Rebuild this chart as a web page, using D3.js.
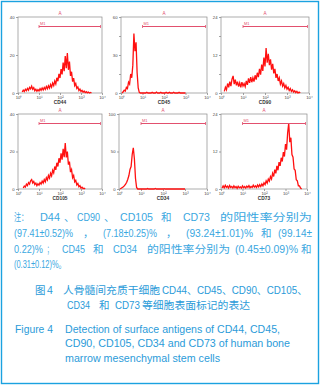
<!DOCTYPE html>
<html><head><meta charset="utf-8">
<script src="https://cdn.jsdelivr.net/npm/d3@7"></script>
<style>html,body{margin:0;padding:0;background:#fff;} svg{display:block;}</style>
</head><body>
<svg id="c" width="323" height="388"></svg>
<script>
// ---------------- DATA ----------------
const markers = ["CD44", "CD45", "CD90", "CD105", "CD34", "CD73"];
const logStart = [0.20, 0.05, 0.15, 0.25, 0.05, 0.05];   // first channel (log10 of intensity)
const logStep = 0.05;
const countsCD44 = [0.5,1.5,0.8,2.0,1.2,2.4,1.5,3.0,2.2,3.6,2.0,2.8,1.2,2.0,0.9,1.8,1.1,2.3,1.4,2.6,1.6,2.9,1.9,3.4,2.2,3.8,2.6,4.5,3.1,5.2,3.9,6.3,4.8,8.0,6.2,10.1,7.9,12.6,9.8,16.0,11.5,19.5,13.0,21.0,12.2,16.5,9.0,11.2,6.0,7.8,3.9,5.0,2.4,3.2,1.3,2.1,0.8,1.4,0.4,1.0,0.2,0.7,0.1,0.5,0,0.3,0];
const countsCD45 = [0,1.0,2.2,1.5,4.5,3.5,8.5,7,15,12,22,47,33,40,16,4,0.5,0,
  0,0,0,0,0,0.6,0,0,0,0,0.5,0,0,0,0.7,0,0,0,0.5,0,0,0,0,0.6,0,0,0.5,0,0,0,0.6,0,0,0,0,0.5,0,0,0,0,0,0];
const countsCD90 = [0.5,1.8,1.0,3.0,1.8,3.6,2.2,4.4,5.4,2.8,4.2,2.4,3.6,2.0,3.2,1.8,3.4,2.2,3.0,2.0,3.8,2.6,4.6,3.2,5.0,3.4,4.8,3.6,5.6,4.2,6.4,5.0,7.6,5.8,9.0,7.0,11.2,8.4,14.2,9.6,12.4,8.8,10.6,7.4,9.2,6.2,7.6,4.8,6.0,3.8,4.8,2.8,3.8,2.2,3.0,1.6,2.4,1.2,1.8,0.8,1.4,0.5,1.0,0.3,0.7,0.1,0.5,0,0.3,0];
const countsCD105 = [0.5,1.6,1.0,2.6,1.8,3.4,2.6,4.4,5.0,3.2,4.0,2.4,3.2,1.8,2.8,2.0,3.4,2.6,4.2,3.2,5.0,3.8,6.0,4.8,7.2,5.8,8.4,7.0,10.0,8.6,12.0,10.2,14.0,12.0,16.4,14.0,19.0,15.6,21.4,17.0,24.5,16.8,20.0,13.0,14.6,9.0,10.4,6.0,7.2,3.8,4.6,2.2,3.0,1.2,1.8,0.5,1.0,0.2,0.4,0];
const countsCD34 = [0,1.0,2.0,3.0,4.5,6.5,9.0,13,18,26,30,46,55,40,14,2,0,
  0,0,0,0,0,0,0,0,0.6,0,0,0,0,0,0,0.7,0,0,0,0,0,0,0,0.5,0,0,0,0,0,0,0,0,0,0,0,0,0,0,0,0,0,0,0];
const countsCD73 = [0.3,1.0,0.4,1.2,0.5,0.9,0.3,1.1,0.5,0.8,0.3,1.0,0.4,0.8,0.2,0.9,0.4,0.7,0.3,1.0,0.4,0.8,0.3,0.9,0.5,1.1,0.4,0.8,0.5,1.2,0.6,1.0,0.5,1.3,0.7,1.4,0.8,1.6,1.0,2.0,1.4,2.6,1.9,3.2,2.5,4.0,3.2,5.0,4.0,6.2,5.0,7.4,6.0,8.6,7.4,10.0,8.8,11.8,10.4,14.4,12.6,18.0,21.0,15.0,16.4,11.0,10.2,6.4,6.0,3.0,2.6,1.0,1.0,0.3,0];
const allCounts = [countsCD44, countsCD45, countsCD90, countsCD105, countsCD34, countsCD73];
const yMax = [40, 60, 24, 40, 100, 24];
const yLabelTicks = [[0, 20, 40], [0, 30, 60], [0, 12, 24], [0, 20, 40], [0, 50, 100], [0, 12, 24]];
const yMinorTicks = [[], [15, 45], [6, 18], [], [], []];
const xTickValues = [1, 10, 100, 1000, 10000];
const xTickLabels = ["10⁰", "10¹", "10²", "10³", "10⁴"];
const gateRange = [10, 10000];
const gateLabel = "M1";
const regionLabel = "A";

// ---------------- LAYOUT ----------------
const frames = [
  {x0: 18, x1: 102, y0: 17, y1: 93},
  {x0: 121, x1: 207, y0: 17, y1: 93},
  {x0: 221, x1: 309, y0: 17, y1: 93},
  {x0: 18, x1: 102, y0: 114, y1: 189},
  {x0: 119, x1: 207, y0: 114, y1: 189},
  {x0: 221, x1: 307, y0: 114, y1: 189}
];
const svg = d3.select("#c");
svg.append("rect").attr("x", 1.5).attr("y", 1.5).attr("width", 317).attr("height", 382)
  .attr("fill", "#fff").attr("stroke", "#1ba2e0").attr("stroke-width", 1.4);

frames.forEach((f, i) => {
  const g = svg.append("g");
  const x = d3.scaleLog().domain([1, 10000]).range([f.x0, f.x1]);
  const y = d3.scaleLinear().domain([0, yMax[i]]).range([f.y1, f.y0]);
  const ya = g.append("g").attr("transform", `translate(${f.x0},0)`)
    .call(d3.axisLeft(y).tickValues(yLabelTicks[i].concat(yMinorTicks[i]))
      .tickSize(2).tickPadding(1.5)
      .tickFormat(d => yLabelTicks[i].includes(d) ? d3.format("d")(d) : ""));
  ya.select(".domain").remove();
  ya.selectAll("line").attr("stroke", "#666").attr("stroke-width", 0.6);
  ya.selectAll("text").attr("font-size", 4.2).attr("fill", "#444").attr("font-family", "Liberation Sans, Arial, sans-serif");
  const xa = g.append("g").attr("transform", `translate(0,${f.y1})`)
    .call(d3.axisBottom(x).tickValues(xTickValues).tickSize(2).tickPadding(1)
      .tickFormat((d, k) => xTickLabels[k]));
  xa.select(".domain").remove();
  xa.selectAll("line").attr("stroke", "#666").attr("stroke-width", 0.6);
  xa.selectAll("text").attr("font-size", 4.2).attr("fill", "#444").attr("font-family", "Liberation Sans, Arial, sans-serif");
  g.append("rect").attr("x", f.x0).attr("y", f.y0).attr("width", f.x1 - f.x0).attr("height", f.y1 - f.y0)
    .attr("fill", "none").attr("stroke", "#8a8a8a").attr("stroke-width", 0.7);
  g.append("text").attr("x", (f.x0 + f.x1) / 2).attr("y", f.y1 + 10.5).attr("text-anchor", "middle")
    .attr("font-size", 4.8).attr("font-weight", "bold").attr("fill", "#333")
    .attr("font-family", "Liberation Sans, Arial, sans-serif").text(markers[i]);
  g.append("text").attr("x", (f.x0 + f.x1) / 2).attr("y", f.y0 - 2.5).attr("text-anchor", "middle")
    .attr("font-size", 4.6).attr("fill", "#e04a6a")
    .attr("font-family", "Liberation Sans, Arial, sans-serif").text(regionLabel);
  const counts = allCounts[i];
  const line = d3.line()
    .x((v, j) => x(Math.pow(10, logStart[i] + j * logStep)))
    .y(v => y(v));
  g.append("path").datum(counts).attr("d", line).attr("fill", "none")
    .attr("stroke", "#ff1010").attr("stroke-width", 1.3).attr("stroke-linejoin", "miter");
  const gy = f.y0 + 9.5;
  const gx0 = x(gateRange[0]), gx1 = x(gateRange[1]) - 1.5;
  g.append("line").attr("x1", gx0).attr("x2", gx1).attr("y1", gy).attr("y2", gy)
    .attr("stroke", "#e2506e").attr("stroke-width", 1);
  [gx0, gx1].forEach(xx => g.append("line").attr("x1", xx).attr("x2", xx).attr("y1", gy - 1.5).attr("y2", gy + 1.5)
    .attr("stroke", "#e2506e").attr("stroke-width", 0.8));
  g.append("text").attr("x", gx0 + 1).attr("y", gy - 1.5).attr("font-size", 4).attr("fill", "#e2506e")
    .attr("font-family", "Liberation Sans, Arial, sans-serif").text(gateLabel);
});

// ---------------- TEXT ----------------
const FONT = "Liberation Sans, Arial, 'Noto Sans CJK SC', sans-serif";
function seg(t, x, y, len, color, size) {
  const s = svg.append("text").attr("x", x).attr("y", y).attr("dominant-baseline", "central")
    .attr("font-size", size || 10.5).attr("fill", color).attr("font-family", FONT).text(t);
  if (len) s.attr("textLength", len).attr("lengthAdjust", "spacingAndGlyphs");
}
const noteColor = "#3aa7df", capColor = "#2b9bd9";
const noteText = [
  [["注：", 14, 217, 14], ["D44", 40, 217, 20], ["、", 64, 217], ["CD90", 77, 217, 23], ["、", 104, 217], ["CD105", 120, 217, 33], ["和", 161, 217], ["CD73", 183, 217, 27], ["的阳性率分别为", 220, 217, 92]],
  [["(97.41±0.52)%", 14, 233, 59], ["，", 83, 233], ["(7.18±0.25)%", 103, 233, 54], ["，", 166, 233], ["(93.24±1.01)%", 186, 233, 67], ["和", 261, 233], ["(99.14±", 278, 233, 34]],
  [["0.22)%", 14, 249, 29], ["；", 47, 249, 5], ["CD45", 62, 249, 23], ["和", 93, 249], ["CD34", 113, 249, 24], ["的阳性率分别为", 147, 249, 83], ["(0.45±0.09)%", 235, 249, 63], ["和", 301, 249]],
  [["(0.31±0.12)%。", 14, 264, 52]]
];
noteText.forEach(l => l.forEach(s => seg(s[0], s[1], s[2], s[3], noteColor)));
const capText = [
  ["图", 35, 290], ["4", 47, 290], ["人骨髓间充质干细胞", 63, 290, 97], ["CD44、CD45、CD90、CD105、", 162, 290, 145],
  ["CD34", 67, 305, 23], ["和", 99, 305], ["CD73", 115, 305, 25], ["等细胞表面标记的表达", 142, 305, 108],
  ["Figure 4", 15, 329, 38], ["Detection of surface antigens of CD44, CD45,", 65, 329, 215],
  ["CD90, CD105, CD34 and CD73 of human bone", 65, 343, 225], ["marrow mesenchymal stem cells", 65, 358, 155]
];
capText.forEach(s => seg(s[0], s[1], s[2], s[3], capColor));
</script>
</body></html>
